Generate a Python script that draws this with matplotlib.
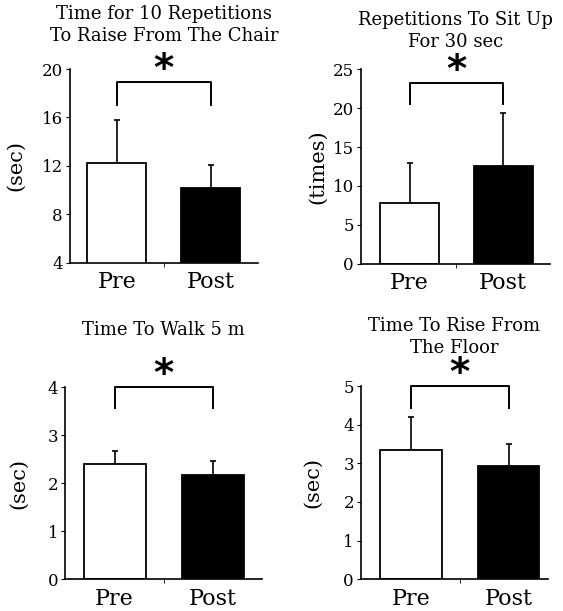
import matplotlib
matplotlib.use('Agg')
import matplotlib.pyplot as plt

# ------------------------------------------------------------
# Data
# ------------------------------------------------------------
groups = ['Pre', 'Post']
titles = [
    'Time for 10 Repetitions\nTo Raise From The Chair',
    'Repetitions To Sit Up\nFor 30 sec',
    'Time To Walk 5 m',
    'Time To Rise From\nThe Floor',
]
ylabels = ['(sec)', '(times)', '(sec)', '(sec)']
means = [
    [12.2, 10.2],
    [7.8, 12.5],
    [2.40, 2.18],
    [3.35, 2.92],
]
sds = [
    [3.6, 1.9],
    [5.2, 6.8],
    [0.27, 0.29],
    [0.85, 0.58],
]
ylims = [(4, 20), (0, 25), (0, 4), (0, 5)]
yticks = [[4, 8, 12, 16, 20], [0, 5, 10, 15, 20, 25],
          [0, 1, 2, 3, 4], [0, 1, 2, 3, 4, 5]]
# significance bracket: (top, leg end)
brackets = [(18.9, 17.0), (23.2, 20.5), (4.0, 3.56), (5.0, 4.43)]

# layout (figure fractions)
boxes = [
    [0.124, 0.570, 0.334, 0.317],
    [0.641, 0.568, 0.336, 0.319],
    [0.116, 0.052, 0.350, 0.314],
    [0.641, 0.052, 0.332, 0.316],
]
xlims = [(-0.5, 1.5), (-0.52, 1.5), (-0.5, 1.5), (-0.51, 1.40)]
title_pads = [20, 16, 38, 24]
label_pads = [12, 4, 14, 15]

serif = 'DejaVu Serif'

fig = plt.figure(figsize=(5.63, 6.11), dpi=100)

for i in range(4):
    ax = fig.add_axes(boxes[i])
    x = [0, 1]
    ax.bar(x, means[i], width=0.63, color=['white', 'black'],
           edgecolor='black', linewidth=1.3, zorder=2)
    # upper error bars only
    ax.errorbar(x, means[i], yerr=[[0, 0], sds[i]], fmt='none',
                ecolor='black', elinewidth=1.2, capsize=2.5, capthick=1.2,
                zorder=1)
    ax.set_ylim(*ylims[i])
    ax.set_xlim(*xlims[i])
    ax.set_yticks(yticks[i])
    ax.set_xticks(x)
    ax.set_xticklabels(groups, fontfamily=serif, fontsize=16)
    ax.set_xticks([0.5], minor=True)
    ax.tick_params(axis='x', which='major', length=0, pad=6)
    ax.tick_params(axis='x', which='minor', length=3, direction='out')
    ax.tick_params(axis='y', length=3, direction='out', pad=2)
    for lab in ax.get_yticklabels():
        lab.set_fontfamily(serif)
        lab.set_fontsize(12)
    ax.spines['top'].set_visible(False)
    ax.spines['right'].set_visible(False)
    ax.spines['left'].set_linewidth(1.2)
    ax.spines['bottom'].set_linewidth(1.2)
    ax.set_ylabel(ylabels[i], fontfamily=serif, fontsize=15,
                  labelpad=label_pads[i])
    ax.set_title(titles[i], fontfamily=serif, fontsize=13,
                 pad=title_pads[i], linespacing=1.3)

    top, leg = brackets[i]
    ax.plot([0, 0, 1, 1], [leg, top, top, leg], color='black',
            linewidth=1.4, clip_on=False)
    ax.annotate('*', xy=(0.5, top), xycoords='data', xytext=(0, -5),
                textcoords='offset points', ha='center', va='bottom',
                fontsize=28, fontweight='bold', fontfamily='DejaVu Sans',
                annotation_clip=False)

fig.savefig('out.png', dpi=100)
